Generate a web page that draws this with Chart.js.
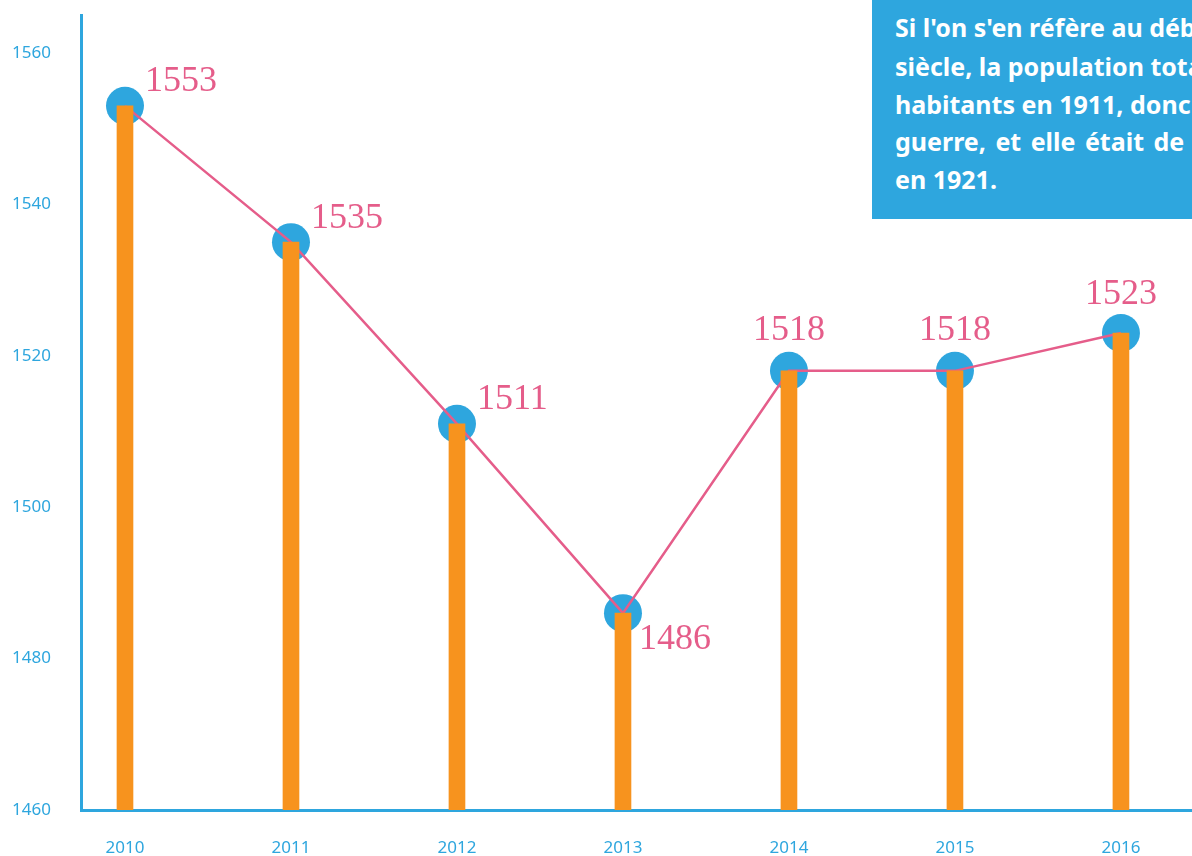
<!DOCTYPE html>
<html>
<head>
<meta charset="utf-8">
<script src="https://cdn.jsdelivr.net/npm/chart.js@4/dist/chart.umd.min.js"></script>
<style>
    html, body { margin: 0; padding: 0; background: #fff; overflow: hidden; }
    #wrap { position: relative; width: 1192px; height: 856px; }
    #note {
        position: absolute; left: 872px; top: 0; width: 400px; height: 219px;
        background: #2EA6DE; color: #fff; overflow: hidden;
        font-family: "Noto Sans", sans-serif; font-weight: bold; font-size: 25px; line-height: 30px;
    }
    #note div { position: absolute; left: 23px; white-space: nowrap; }
</style>
</head>
<body>
<div id="wrap">
    <canvas id="chart" width="1192" height="856"></canvas>
    <div id="note">
        <div style="top:12px">Si l'on s'en réfère au début du XXe</div>
        <div style="top:51px">siècle, la population totale était de</div>
        <div style="top:89px">habitants en 1911, donc avant la</div>
        <div style="top:126px; word-spacing:3px">guerre, et elle était de habitants</div>
        <div style="top:164px">en 1921.</div>
    </div>
</div>
<script>
const years = [2010, 2011, 2012, 2013, 2014, 2015, 2016];
const population = [1553, 1535, 1511, 1486, 1518, 1518, 1523];
const yTicks = [1460, 1480, 1500, 1520, 1540, 1560];

const blue = '#2EA6DE';
const orange = '#F7931E';
const pink = '#E55D8A';

const points = years.map((y, i) => ({ x: y, y: population[i] }));

// label placement per point: [dx, dy, align]
const labelPos = [
    [20, -24, 'left'],
    [20, -24, 'left'],
    [20, -24, 'left'],
    [16, 26, 'left'],
    [0, -40, 'center'],
    [0, -40, 'center'],
    [0, -38, 'center']
];

const valueLabels = {
    id: 'valueLabels',
    afterDatasetsDraw(chart) {
        const meta = chart.getDatasetMeta(2);
        const ctx = chart.ctx;
        ctx.save();
        ctx.font = '36px "Liberation Serif", serif';
        ctx.fillStyle = pink;
        ctx.textBaseline = 'middle';
        meta.data.forEach((pt, i) => {
            const p = labelPos[i];
            ctx.textAlign = p[2];
            ctx.fillText(String(population[i]), pt.x + p[0], pt.y + p[1]);
        });
        ctx.restore();
    }
};

function noPad(scale) {
    scale.paddingLeft = 0;
    scale.paddingRight = 0;
    scale.paddingTop = 0;
    scale.paddingBottom = 0;
}

new Chart(document.getElementById('chart'), {
    type: 'bar',
    data: {
        datasets: [
            {
                type: 'bar',
                data: points,
                backgroundColor: orange,
                barThickness: 16,
                order: 0
            },
            {
                type: 'line',
                data: points,
                borderColor: pink,
                borderWidth: 2.5,
                pointRadius: 0,
                tension: 0,
                order: 1
            },
            {
                type: 'line',
                data: points,
                showLine: false,
                pointRadius: 19,
                pointHoverRadius: 19,
                pointBackgroundColor: blue,
                pointBorderWidth: 0,
                order: 2
            }
        ]
    },
    options: {
        responsive: false,
        animation: false,
        events: [],
        layout: { autoPadding: false, padding: { top: 15, left: 0, right: 0, bottom: 0 } },
        plugins: {
            legend: { display: false },
            tooltip: { enabled: false }
        },
        scales: {
            x: {
                type: 'linear',
                offset: false,
                min: 2009.735,
                max: 2016.428,
                grid: { display: false, drawTicks: false },
                border: { display: true, color: blue, width: 3 },
                afterBuildTicks: scale => { scale.ticks = years.map(v => ({ value: v })); },
                afterFit: scale => { scale.height = 46; noPad(scale); },
                ticks: {
                    color: blue,
                    padding: 28,
                    font: { family: 'Noto Sans', size: 17 },
                    callback: v => String(v)
                }
            },
            y: {
                min: 1460,
                max: 1565,
                grid: { display: false, drawTicks: false },
                border: { display: true, color: blue, width: 3 },
                afterBuildTicks: scale => { scale.ticks = yTicks.map(v => ({ value: v })); },
                afterFit: scale => { scale.width = 81; noPad(scale); },
                ticks: {
                    color: blue,
                    padding: 30,
                    font: { family: 'Noto Sans', size: 17 },
                    callback: v => String(v)
                }
            }
        }
    },
    plugins: [valueLabels]
});
</script>
</body>
</html>
